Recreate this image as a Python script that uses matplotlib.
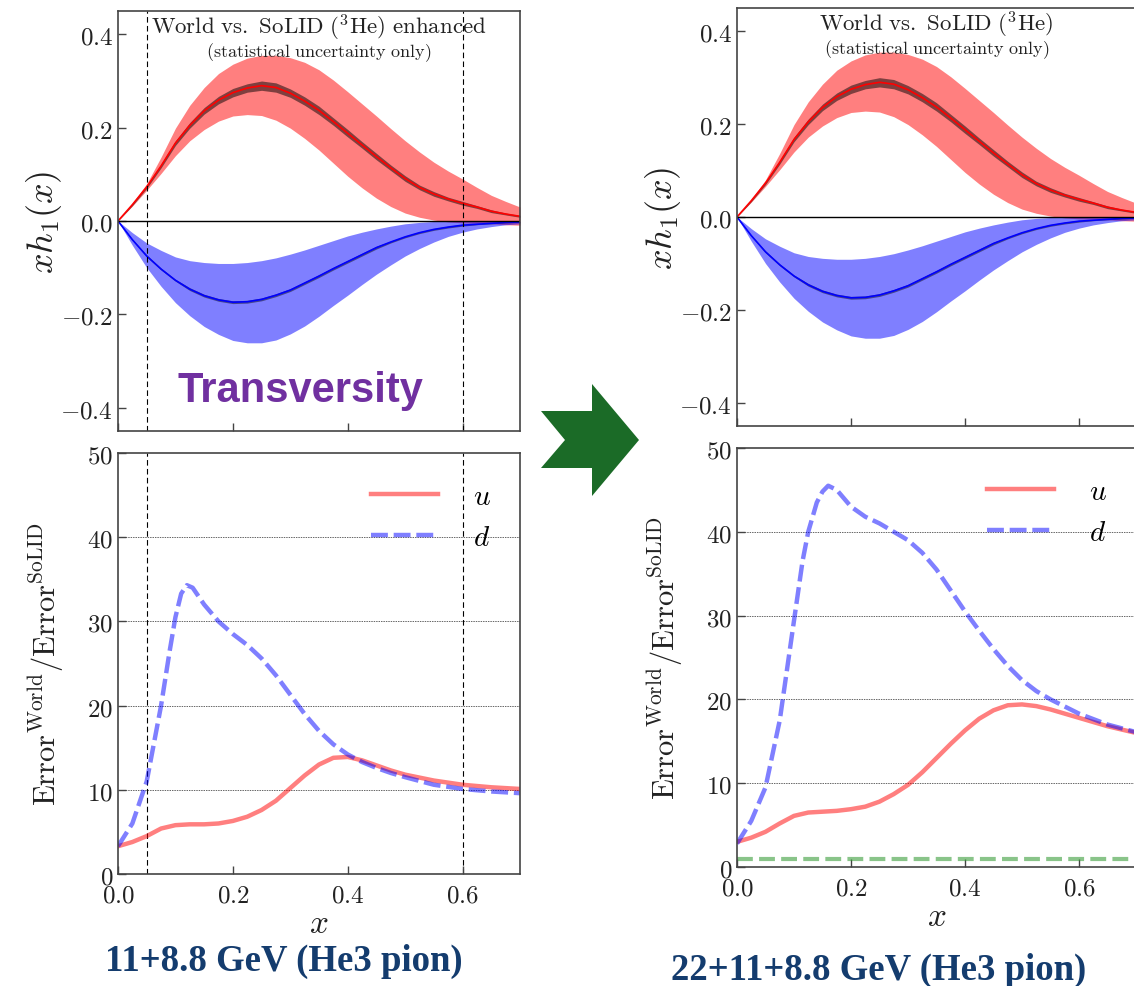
import numpy as np
import matplotlib
matplotlib.use("Agg")
import matplotlib.pyplot as plt
from matplotlib.patches import Polygon
from matplotlib.ticker import FuncFormatter, FixedLocator

plt.rcParams['mathtext.fontset'] = 'cm'
plt.rcParams['font.family'] = ['DejaVu Sans']

# ---------------- data: transversity xh1(x) ----------------
x_top = [0.0, 0.025, 0.05, 0.075, 0.1, 0.125, 0.15, 0.175, 0.2, 0.225, 0.25, 0.275, 0.3, 0.325,
         0.35, 0.375, 0.4, 0.425, 0.45, 0.475, 0.5, 0.525, 0.55, 0.575, 0.6, 0.625, 0.65, 0.675, 0.7]
u_central = [0.0, 0.035, 0.073, 0.118, 0.167, 0.205, 0.236, 0.259, 0.275, 0.285, 0.290, 0.286, 0.274, 0.257,
             0.237, 0.213, 0.188, 0.163, 0.138, 0.114, 0.091, 0.072, 0.058, 0.047, 0.038, 0.030, 0.021, 0.015, 0.010]
u_upper = [0.0, 0.038, 0.080, 0.137, 0.199, 0.248, 0.286, 0.316, 0.336, 0.349, 0.355, 0.355, 0.350, 0.340,
           0.324, 0.302, 0.277, 0.251, 0.225, 0.198, 0.172, 0.148, 0.126, 0.107, 0.090, 0.072, 0.055, 0.042, 0.030]
u_lower = [0.0, 0.032, 0.066, 0.102, 0.140, 0.172, 0.196, 0.214, 0.225, 0.228, 0.226, 0.216, 0.199, 0.177,
           0.152, 0.124, 0.096, 0.071, 0.049, 0.031, 0.017, 0.008, 0.002, -0.002, -0.004, -0.005, -0.006, -0.008, -0.009]
u_solid_err = [0.0, 0.002, 0.003, 0.004, 0.005, 0.006, 0.007, 0.008, 0.009, 0.009, 0.010, 0.010, 0.009, 0.009,
               0.009, 0.008, 0.008, 0.007, 0.007, 0.006, 0.006, 0.005, 0.005, 0.004, 0.004, 0.003, 0.003, 0.002, 0.002]

d_central = [0.0, -0.040, -0.075, -0.103, -0.127, -0.146, -0.160, -0.169, -0.174, -0.173, -0.168, -0.159, -0.148, -0.133,
             -0.118, -0.102, -0.087, -0.072, -0.057, -0.045, -0.034, -0.025, -0.018, -0.013, -0.009, -0.007, -0.005, -0.003, -0.002]
d_upper = [0.0, -0.025, -0.047, -0.063, -0.077, -0.085, -0.089, -0.091, -0.091, -0.089, -0.085, -0.079, -0.071, -0.062,
           -0.052, -0.042, -0.032, -0.024, -0.017, -0.011, -0.006, -0.003, -0.001, 0.001, 0.001, 0.001, 0.001, 0.001, 0.0]
d_lower = [0.0, -0.052, -0.100, -0.140, -0.175, -0.203, -0.226, -0.243, -0.256, -0.261, -0.261, -0.255, -0.242, -0.225,
           -0.204, -0.181, -0.159, -0.136, -0.114, -0.094, -0.075, -0.059, -0.045, -0.033, -0.024, -0.017, -0.012, -0.008, -0.006]
d_solid_err = [0.0, 0.001, 0.002, 0.002, 0.002, 0.003, 0.003, 0.003, 0.003, 0.003, 0.003, 0.003, 0.003, 0.003,
               0.003, 0.003, 0.003, 0.003, 0.003, 0.002, 0.002, 0.002, 0.002, 0.002, 0.002, 0.001, 0.001, 0.001, 0.001]

# ---------------- data: error ratio World / SoLID ----------------
x_u_left = [0.0, 0.025, 0.05, 0.075, 0.1, 0.125, 0.15, 0.175, 0.2, 0.225, 0.25, 0.275, 0.3, 0.325, 0.35,
            0.375, 0.4, 0.425, 0.45, 0.475, 0.5, 0.55, 0.6, 0.65, 0.7]
u_ratio_left = [3.3, 3.8, 4.5, 5.4, 5.8, 5.9, 5.9, 6.0, 6.3, 6.8, 7.6, 8.7, 10.2, 11.7, 13.0,
                13.8, 13.9, 13.5, 12.9, 12.3, 11.8, 11.1, 10.6, 10.3, 10.1]
x_d_left = [0.0, 0.025, 0.05, 0.075, 0.09, 0.1, 0.11, 0.12, 0.13, 0.15, 0.175, 0.2, 0.225, 0.25, 0.275,
            0.3, 0.325, 0.35, 0.375, 0.4, 0.425, 0.45, 0.475, 0.5, 0.55, 0.6, 0.65, 0.7]
d_ratio_left = [3.3, 6.0, 11.0, 20.0, 26.5, 30.5, 33.3, 34.3, 34.0, 32.0, 30.0, 28.5, 27.2, 25.6, 23.6,
                21.3, 19.0, 17.0, 15.4, 14.2, 13.3, 12.6, 12.0, 11.5, 10.6, 10.1, 9.8, 9.6]

x_u_right = [0.0, 0.025, 0.05, 0.075, 0.1, 0.125, 0.15, 0.175, 0.2, 0.225, 0.25, 0.275, 0.3, 0.325, 0.35,
             0.375, 0.4, 0.425, 0.45, 0.475, 0.5, 0.525, 0.55, 0.6, 0.65, 0.7]
u_ratio_right = [3.0, 3.5, 4.2, 5.2, 6.1, 6.5, 6.6, 6.7, 6.9, 7.2, 7.8, 8.7, 9.8, 11.3, 13.0,
                 14.7, 16.3, 17.7, 18.7, 19.3, 19.4, 19.2, 18.8, 17.8, 16.8, 16.0]
x_d_right = [0.0, 0.025, 0.05, 0.075, 0.1, 0.115, 0.125, 0.14, 0.15, 0.16, 0.175, 0.2, 0.225, 0.25, 0.275,
             0.3, 0.325, 0.35, 0.375, 0.4, 0.425, 0.45, 0.475, 0.5, 0.525, 0.55, 0.6, 0.65, 0.7]
d_ratio_right = [2.8, 5.5, 9.5, 17.5, 29.4, 36.5, 40.0, 43.5, 44.8, 45.5, 45.0, 43.0, 41.8, 41.0, 40.0,
                 39.0, 37.5, 35.5, 33.0, 30.5, 28.2, 26.0, 24.0, 22.3, 21.0, 20.0, 18.3, 17.0, 16.1]
baseline_right = 1.0

vlines_x = [0.05, 0.6]
legend_labels = [r'$u$', r'$d$']
title_left = r'$\mathrm{World\ vs.\ SoLID\ (^{3}He)\ enhanced}$'
title_right = r'$\mathrm{World\ vs.\ SoLID\ (^{3}He)}$'
subtitle = r'$\mathrm{(statistical\ uncertainty\ only)}$'
caption_left = '11+8.8 GeV (He3 pion)'
caption_right = '22+11+8.8 GeV (He3 pion)'

W, H = 1134, 987
fig = plt.figure(figsize=(W / 100, H / 100), dpi=100)

def px_axes(l, t, r, b):
    return fig.add_axes([l / W, 1 - b / H, (r - l) / W, (b - t) / H])

ax_tl = px_axes(118, 12, 520, 432)
ax_bl = px_axes(118, 454, 520, 875)
ax_tr = px_axes(737, 9, 1136, 427)
ax_br = px_axes(737, 449, 1136, 868)

fmt1 = FuncFormatter(lambda v, p: r'$%.1f$' % v if abs(v) > 1e-9 else r'$0.0$')
fmt0 = FuncFormatter(lambda v, p: r'$%d$' % int(round(v)))

spine_col = '#444444'

def style(ax):
    for s in ax.spines.values():
        s.set_color(spine_col)
        s.set_linewidth(1.2)
    ax.tick_params(direction='in', length=6, width=1, colors=spine_col,
                   labelcolor='#222222', labelsize=18, top=False, right=False)
    ax.set_xlim(0, 0.7)
    ax.xaxis.set_major_locator(FixedLocator([0.0, 0.2, 0.4, 0.6]))

def top_panel(ax, title, show_vlines, show_text):
    style(ax)
    ax.set_ylim(-0.45, 0.45)
    ax.yaxis.set_major_locator(FixedLocator([-0.4, -0.2, 0.0, 0.2, 0.4]))
    ax.yaxis.set_major_formatter(fmt1)
    ax.set_xticklabels([])
    ax.fill_between(x_top, u_lower, u_upper, color='red', alpha=0.5, lw=0)
    ax.fill_between(x_top, d_lower, d_upper, color='blue', alpha=0.5, lw=0)
    uc = np.array(u_central); ue = np.array(u_solid_err)
    dc = np.array(d_central); de = np.array(d_solid_err)
    ax.fill_between(x_top, uc - ue, uc + ue, color='black', alpha=0.5, lw=0)
    ax.fill_between(x_top, dc - de, dc + de, color='black', alpha=0.45, lw=0)
    ax.plot(x_top, u_central, color='red', lw=1.2)
    ax.plot(x_top, d_central, color='blue', lw=1.2)
    ax.axhline(0, color='black', lw=1.0)
    if show_vlines:
        for xv in vlines_x:
            ax.axvline(xv, color='black', lw=0.8, ls=(0, (5, 3)))
    ax.set_ylabel(r'$xh_1(x)$', fontsize=26, color='#222222')
    ax.yaxis.set_label_coords(-0.135, 0.5)
    ax.text(0.5, 0.962, title, transform=ax.transAxes, ha='center', va='center',
            fontsize=16.5, color='#222222')
    ax.text(0.5, 0.903, subtitle, transform=ax.transAxes, ha='center', va='center',
            fontsize=13, color='#222222')
    if show_text:
        ax.text(0.318, -0.362, 'Transversity', ha='center', va='center',
                fontsize=30, fontweight='bold', color='#7030a0',
                family=['Liberation Sans', 'DejaVu Sans'])

def bottom_panel(ax, xu, ur, xd, dr, show_vlines, baseline=None):
    style(ax)
    ax.set_ylim(0, 50)
    ax.yaxis.set_major_locator(FixedLocator([0, 10, 20, 30, 40, 50]))
    ax.yaxis.set_major_formatter(fmt0)
    ax.xaxis.set_major_formatter(fmt1)
    for yv in [10, 20, 30, 40]:
        ax.axhline(yv, color='#666666', lw=0.7, ls=(0, (1.5, 1.0)), zorder=0.5)
    if show_vlines:
        for xv in vlines_x:
            ax.axvline(xv, color='black', lw=0.8, ls=(0, (5, 3)), zorder=0.6)
    ax.plot(xu, ur, color='red', alpha=0.5, lw=3.2, label=legend_labels[0])
    ax.plot(xd, dr, color='blue', alpha=0.5, lw=3.2, ls=(0, (3.8, 1.3)), label=legend_labels[1])
    if baseline is not None:
        ax.axhline(baseline, color='#3a9e3a', alpha=0.6, lw=3, ls=(0, (3.8, 1.5)))
    ax.legend(loc='upper right', frameon=False, fontsize=21, handlelength=2.3,
              handletextpad=1.2, labelspacing=0.45, borderaxespad=0.6)
    ax.set_ylabel(r'$\mathrm{Error}^{\mathrm{World}}/\mathrm{Error}^{\mathrm{SoLID}}$',
                  fontsize=22, color='#222222')
    ax.yaxis.set_label_coords(-0.13, 0.5)
    ax.set_xlabel(r'$x$', fontsize=24, color='#222222', labelpad=0)
    ax.tick_params(axis='x', pad=6)

top_panel(ax_tl, title_left, True, True)
top_panel(ax_tr, title_right, False, False)
bottom_panel(ax_bl, x_u_left, u_ratio_left, x_d_left, d_ratio_left, True)
bottom_panel(ax_br, x_u_right, u_ratio_right, x_d_right, d_ratio_right, False, baseline=baseline_right)

# green arrow (decoration, pixel coordinates)
arrow_px = [(541, 412), (592, 412), (592, 385), (639, 441), (592, 497),
            (592, 469), (541, 469), (565, 441)]
arrow = Polygon([(px / W, 1 - py / H) for px, py in arrow_px], closed=True,
                transform=fig.transFigure, facecolor='#1b6b27', edgecolor='none')
fig.patches.append(arrow)

cap_kw = dict(ha='center', va='baseline', fontsize=26.5, fontweight='bold',
              color='#143c6e', family=['Liberation Serif', 'DejaVu Serif'])
fig.text(284 / W, 1 - 971 / H, caption_left, **cap_kw)
fig.text(879 / W, 1 - 980 / H, caption_right, **cap_kw)

fig.savefig('out.png', dpi=100)
